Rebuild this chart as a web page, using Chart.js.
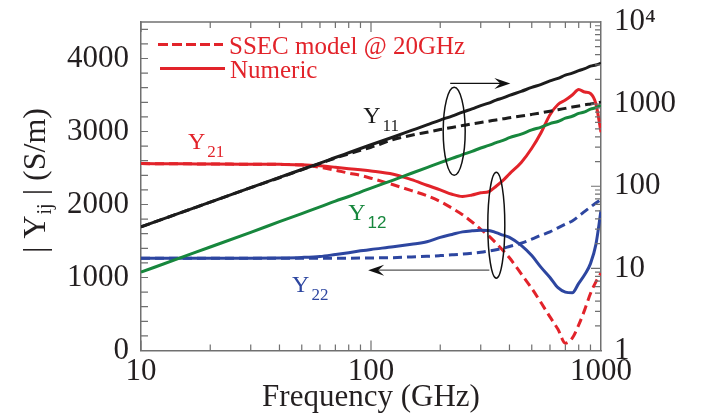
<!DOCTYPE html>
<html>
<head>
<meta charset="utf-8">
<script src="https://cdn.jsdelivr.net/npm/chart.js@4.4.1/dist/chart.umd.min.js"></script>
<style>
  html, body { margin: 0; padding: 0; background: #fff; }
  canvas { display: block; }
</style>
</head>
<body>
<canvas id="admittanceChart" width="707" height="419"></canvas>
<script>
// Frequency points (GHz)
var freqs = [10, 15, 20, 30, 40, 50, 60, 70, 80, 90, 100, 125, 150, 175, 200, 225, 250, 275, 300, 325, 350, 375, 400, 450, 500, 550, 600, 650, 700, 750, 800, 850, 900, 950, 1000];

// |Y11|, |Y12| in S/m -> right (log) axis
var y11Numeric = [32, 48, 64, 96, 128, 160, 191, 224, 256, 288, 320, 398, 478, 558, 640, 715, 800, 875, 960, 1030, 1120, 1190, 1280, 1430, 1600, 1740, 1920, 2060, 2250, 2380, 2560, 2700, 2900, 3000, 3150];
var y11Model = [32, 48, 64, 96, 127, 159, 189, 220, 248, 274, 298, 370, 418, 455, 490, 520, 548, 575, 598, 620, 642, 662, 682, 715, 750, 785, 820, 855, 888, 920, 950, 980, 1005, 1030, 1055];
var y12Numeric = [9.0, 13.6, 18.2, 27.5, 37, 46.5, 56, 66, 75, 85, 95, 119, 144, 169, 194, 218, 243, 266, 292, 314, 340, 362, 390, 432, 485, 525, 580, 615, 675, 712, 770, 805, 870, 905, 975];

// |Y21|, |Y22| in S/m -> left (linear) axis
var y21Numeric = [2560, 2558, 2555, 2552, 2550, 2545, 2530, 2510, 2490, 2475, 2460, 2415, 2340, 2264, 2200, 2140, 2110, 2130, 2160, 2175, 2250, 2330, 2420, 2575, 2770, 2990, 3230, 3370, 3430, 3500, 3575, 3540, 3520, 3380, 2990];
var y21Model = [2560, 2558, 2555, 2552, 2550, 2540, 2510, 2470, 2430, 2400, 2360, 2270, 2190, 2120, 2040, 1950, 1860, 1760, 1660, 1570, 1470, 1370, 1270, 1050, 850, 650, 460, 290, 100, 170, 350, 560, 780, 940, 1060];
var y22Numeric = [1265, 1265, 1265, 1265, 1268, 1275, 1288, 1315, 1340, 1365, 1385, 1420, 1455, 1490, 1550, 1590, 1625, 1640, 1648, 1645, 1615, 1580, 1550, 1440, 1300, 1135, 1000, 860, 800, 790, 920, 1040, 1190, 1450, 1920];
var y22Model = [1265, 1265, 1265, 1265, 1265, 1265, 1265, 1265, 1265, 1266, 1268, 1272, 1282, 1290, 1300, 1310, 1320, 1332, 1345, 1362, 1380, 1400, 1425, 1470, 1525, 1580, 1625, 1680, 1730, 1775, 1840, 1905, 1965, 2020, 2065];

// Tick labels
var freqTicks = [10, 100, 1000];
var leftTicks = [0, 1000, 2000, 3000, 4000];
var rightTicks = [1, 10, 100, 1000, 10000];

var serif = '"Liberation Serif", "Times New Roman", serif';
var sans = '"Liberation Sans", Arial, sans-serif';
var red = '#e2232a', black = '#1c1c1c', green = '#17873d', blue = '#2d46a0';
var axisGray = '#707070', textColor = '#231f20';

// Curve labels and callouts, placed in (GHz, left-axis S/m) coordinates
var notes = [
    { sub: '11', f: 92.5, v: 3114, color: black, subFont: serif },
    { sub: '21', f: 16.0, v: 2767, color: red, subFont: serif },
    { sub: '12', f: 79.6, v: 1785, color: green, subFont: sans },
    { sub: '22', f: 45.4, v: 803, color: blue, subFont: serif }
];
var ellipses = [
    { f: 230, v: 3004, rx: 11, ry: 44 },
    { f: 350.6, v: 1716, rx: 8.5, ry: 53 }
];
var arrows = [
    { f1: 221, f2: 403.5, v: 3658, color: '#111' },
    { f1: 327, f2: 97.2, v: 1100, color: '#555' }
];

function pts(ys) {
    return freqs.map(function (f, i) { return { x: f, y: ys[i] }; });
}

function curve(label, ys, color, axis, dashed) {
    return {
        label: label,
        data: pts(ys),
        yAxisID: axis,
        borderColor: color,
        backgroundColor: color,
        borderWidth: 3,
        borderDash: dashed ? [9, 5] : [],
        pointRadius: 0,
        fill: false,
        cubicInterpolationMode: 'monotone'
    };
}

function fixedTicks(list) {
    return function (scale) {
        scale.ticks = list.map(function (v) { return { value: v }; });
    };
}

// keep the plot box where the reference has it
function fitWidth(w) {
    return function (s) {
        s.width = w;
        s.paddingTop = 0;
        s.paddingBottom = 0;
    };
}

var decorations = {
    id: 'decorations',
    afterDraw: function (chart) {
        var ctx = chart.ctx, a = chart.chartArea;
        var sx = chart.scales.x, sy = chart.scales.y, sr = chart.scales.y1;
        ctx.save();

        // top frame line
        ctx.strokeStyle = axisGray;
        ctx.lineWidth = 1.5;
        ctx.beginPath();
        ctx.moveTo(a.left, a.top);
        ctx.lineTo(a.right, a.top);
        ctx.stroke();

        // inward tick marks
        ctx.lineWidth = 1.2;
        ctx.beginPath();
        [10, 100].forEach(function (d) {
            for (var m = 1; m <= 9; m++) {
                var x = sx.getPixelForValue(d * m), len = m === 1 ? 10 : 6;
                ctx.moveTo(x, a.bottom); ctx.lineTo(x, a.bottom - len);
                ctx.moveTo(x, a.top); ctx.lineTo(x, a.top + len);
            }
        });
        for (var v = 200; v <= 4400; v += 200) {
            var y = sy.getPixelForValue(v);
            ctx.moveTo(a.left, y); ctx.lineTo(a.left + 7, y);
        }
        [1, 10, 100, 1000].forEach(function (d) {
            for (var m = 2; m <= 9; m++) {
                var y = sr.getPixelForValue(d * m);
                if (y < a.top) continue;
                ctx.moveTo(a.right, y); ctx.lineTo(a.right - 6, y);
            }
            if (d > 1) {
                var yMaj = sr.getPixelForValue(d);
                ctx.moveTo(a.right, yMaj); ctx.lineTo(a.right - 10, yMaj);
            }
        });
        ctx.stroke();

        // legend
        ctx.strokeStyle = red;
        ctx.lineWidth = 3;
        ctx.setLineDash([10, 4]);
        ctx.beginPath();
        ctx.moveTo(a.left + 17, 44.5); ctx.lineTo(a.left + 82, 44.5);
        ctx.stroke();
        ctx.setLineDash([]);
        ctx.beginPath();
        ctx.moveTo(a.left + 19, 68.5); ctx.lineTo(a.left + 84, 68.5);
        ctx.stroke();
        ctx.fillStyle = red;
        ctx.font = '25px ' + serif;
        ctx.textBaseline = 'alphabetic';
        ctx.textAlign = 'left';
        ctx.fillText('SSEC model @ 20GHz', a.left + 88, 54);
        ctx.fillText('Numeric', a.left + 89, 78);

        // curve labels
        notes.forEach(function (n) {
            var x = sx.getPixelForValue(n.f), y = sy.getPixelForValue(n.v);
            ctx.fillStyle = n.color;
            ctx.font = '24px ' + serif;
            ctx.fillText('Y', x, y);
            var w = ctx.measureText('Y').width;
            ctx.font = '17px ' + n.subFont;
            ctx.fillText(n.sub, x + w + 2, y + 8);
        });

        // ellipses
        ctx.strokeStyle = '#111';
        ctx.lineWidth = 1.5;
        ellipses.forEach(function (e) {
            ctx.beginPath();
            ctx.ellipse(sx.getPixelForValue(e.f), sy.getPixelForValue(e.v), e.rx, e.ry, 0, 0, Math.PI * 2);
            ctx.stroke();
        });

        // arrows
        arrows.forEach(function (ar) {
            var x1 = sx.getPixelForValue(ar.f1), x2 = sx.getPixelForValue(ar.f2);
            var y = sy.getPixelForValue(ar.v), dir = x2 > x1 ? 1 : -1;
            ctx.strokeStyle = ar.color;
            ctx.lineWidth = 1.3;
            ctx.beginPath();
            ctx.moveTo(x1, y); ctx.lineTo(x2 - dir * 8, y);
            ctx.stroke();
            ctx.fillStyle = '#111';
            ctx.beginPath();
            ctx.moveTo(x2, y);
            ctx.lineTo(x2 - dir * 16, y - 5.5);
            ctx.lineTo(x2 - dir * 10, y);
            ctx.lineTo(x2 - dir * 16, y + 5.5);
            ctx.closePath();
            ctx.fill();
        });

        // left axis title: | Y_ij | (S/m)
        ctx.save();
        ctx.translate(45, 253);
        ctx.rotate(-Math.PI / 2);
        ctx.fillStyle = textColor;
        ctx.font = '32px ' + serif;
        var t1 = '| Y';
        ctx.fillText(t1, 0, 0);
        var p = ctx.measureText(t1).width;
        ctx.font = '20px ' + serif;
        ctx.fillText('ij', p + 1, 6);
        p += ctx.measureText('ij').width + 1;
        ctx.font = '32px ' + serif;
        ctx.fillText(' | (S/m)', p, 0);
        ctx.restore();

        ctx.restore();
    }
};

var ctx = document.getElementById('admittanceChart').getContext('2d');
var admittanceChart = new Chart(ctx, {
    type: 'line',
    data: {
        datasets: [
            curve('Y11 numeric', y11Numeric, black, 'y1', false),
            curve('Y11 SSEC model', y11Model, black, 'y1', true),
            curve('Y12 numeric', y12Numeric, green, 'y1', false),
            curve('Y22 numeric', y22Numeric, blue, 'y', false),
            curve('Y22 SSEC model', y22Model, blue, 'y', true),
            curve('Y21 numeric', y21Numeric, red, 'y', false),
            curve('Y21 SSEC model', y21Model, red, 'y', true)
        ]
    },
    options: {
        responsive: false,
        animation: false,
        layout: { padding: { top: 22, left: 0, right: 0, bottom: 0 } },
        plugins: {
            legend: { display: false },
            tooltip: { enabled: false }
        },
        scales: {
            x: {
                type: 'logarithmic',
                min: 10,
                max: 1000,
                grid: { display: false, drawTicks: false },
                border: { color: axisGray, width: 1.5 },
                afterBuildTicks: fixedTicks(freqTicks),
                afterFit: function (s) { s.height = 68.5; s.paddingLeft = 0; s.paddingRight = 0; },
                ticks: {
                    color: textColor,
                    font: { family: serif, size: 31 },
                    padding: 3,
                    maxRotation: 0,
                    autoSkip: false,
                    callback: function (v) { return String(v); }
                },
                title: {
                    display: true,
                    text: 'Frequency (GHz)',
                    color: textColor,
                    font: { family: serif, size: 31 },
                    padding: { top: 0, bottom: 3 }
                }
            },
            y: {
                type: 'linear',
                position: 'left',
                min: 0,
                max: 4500,
                grid: { display: false, drawTicks: false },
                border: { color: axisGray, width: 1.5 },
                afterBuildTicks: fixedTicks(leftTicks),
                afterFit: fitWidth(141),
                ticks: {
                    color: textColor,
                    font: { family: serif, size: 31 },
                    padding: 12,
                    callback: function (v) { return String(v); }
                }
            },
            y1: {
                type: 'logarithmic',
                position: 'right',
                min: 1,
                max: 10000,
                grid: { display: false, drawTicks: false },
                border: { color: axisGray, width: 1.5 },
                afterBuildTicks: fixedTicks(rightTicks),
                afterFit: fitWidth(106),
                ticks: {
                    color: textColor,
                    font: { family: serif, size: 31 },
                    padding: 13,
                    callback: function (v) { return v === 10000 ? '10\u2074' : String(v); }
                }
            }
        }
    },
    plugins: [decorations]
});
</script>
</body>
</html>
